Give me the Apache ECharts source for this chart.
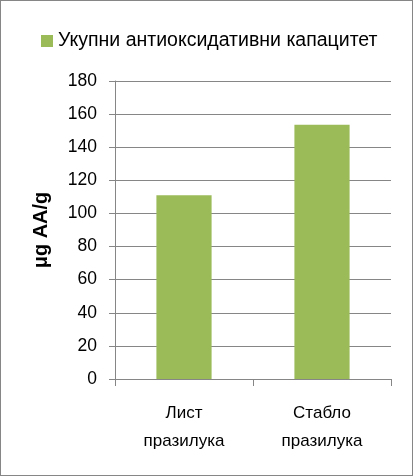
<!DOCTYPE html>
<html><head><meta charset="utf-8">
<script src="https://cdn.jsdelivr.net/npm/echarts@6/dist/echarts.min.js"></script>
<style>
html,body{margin:0;padding:0;background:#fff;}
#c{position:absolute;left:0;top:0;width:411px;height:474px;border:1px solid #868686;}
</style></head>
<body><div id="c"></div>
<script>
const categories = ['Лист\nпразилука', 'Стабло\nпразилука'];
const seriesName = 'Укупни антиоксидативни капацитет';
const values = [111, 153.5];
const yTicks = {min: 0, max: 180, interval: 20};
const yName = 'μg AA/g';

const chart = echarts.init(document.getElementById('c'), null, {renderer: 'canvas'});
const font = 'Liberation Sans, Noto Sans, sans-serif';
chart.setOption({
  animation: false,
  textStyle: {fontFamily: font},
  legend: {
    data: [seriesName], left: 35, top: 25, itemWidth: 12, itemHeight: 12, itemGap: 6,
    icon: 'rect',
    textStyle: {fontSize: 19.5, color: '#000', fontFamily: font}
  },
  grid: {left: 114, top: 80, right: 21, bottom: 96},
  xAxis: {
    type: 'category', data: categories,
    axisLine: {lineStyle: {color: '#868686'}},
    axisTick: {show: true, length: 7, alignWithLabel: false, lineStyle: {color: '#868686'}},
    axisLabel: {fontSize: 17, color: '#000', margin: 20, lineHeight: 28, fontFamily: font}
  },
  yAxis: {
    type: 'value', min: yTicks.min, max: yTicks.max, interval: yTicks.interval,
    name: yName, nameLocation: 'middle', nameGap: 64, nameRotate: 90,
    nameTextStyle: {fontSize: 20, fontWeight: 'bold', color: '#000', fontFamily: font},
    axisLine: {show: true, lineStyle: {color: '#868686'}},
    axisTick: {show: true, length: 6, lineStyle: {color: '#868686'}},
    splitLine: {lineStyle: {color: '#868686'}},
    axisLabel: {fontSize: 17.5, color: '#000', margin: 18, fontFamily: font}
  },
  series: [{
    name: seriesName, type: 'bar', data: values, barWidth: '40%',
    itemStyle: {color: '#9BBB59'}
  }]
});
</script></body></html>
